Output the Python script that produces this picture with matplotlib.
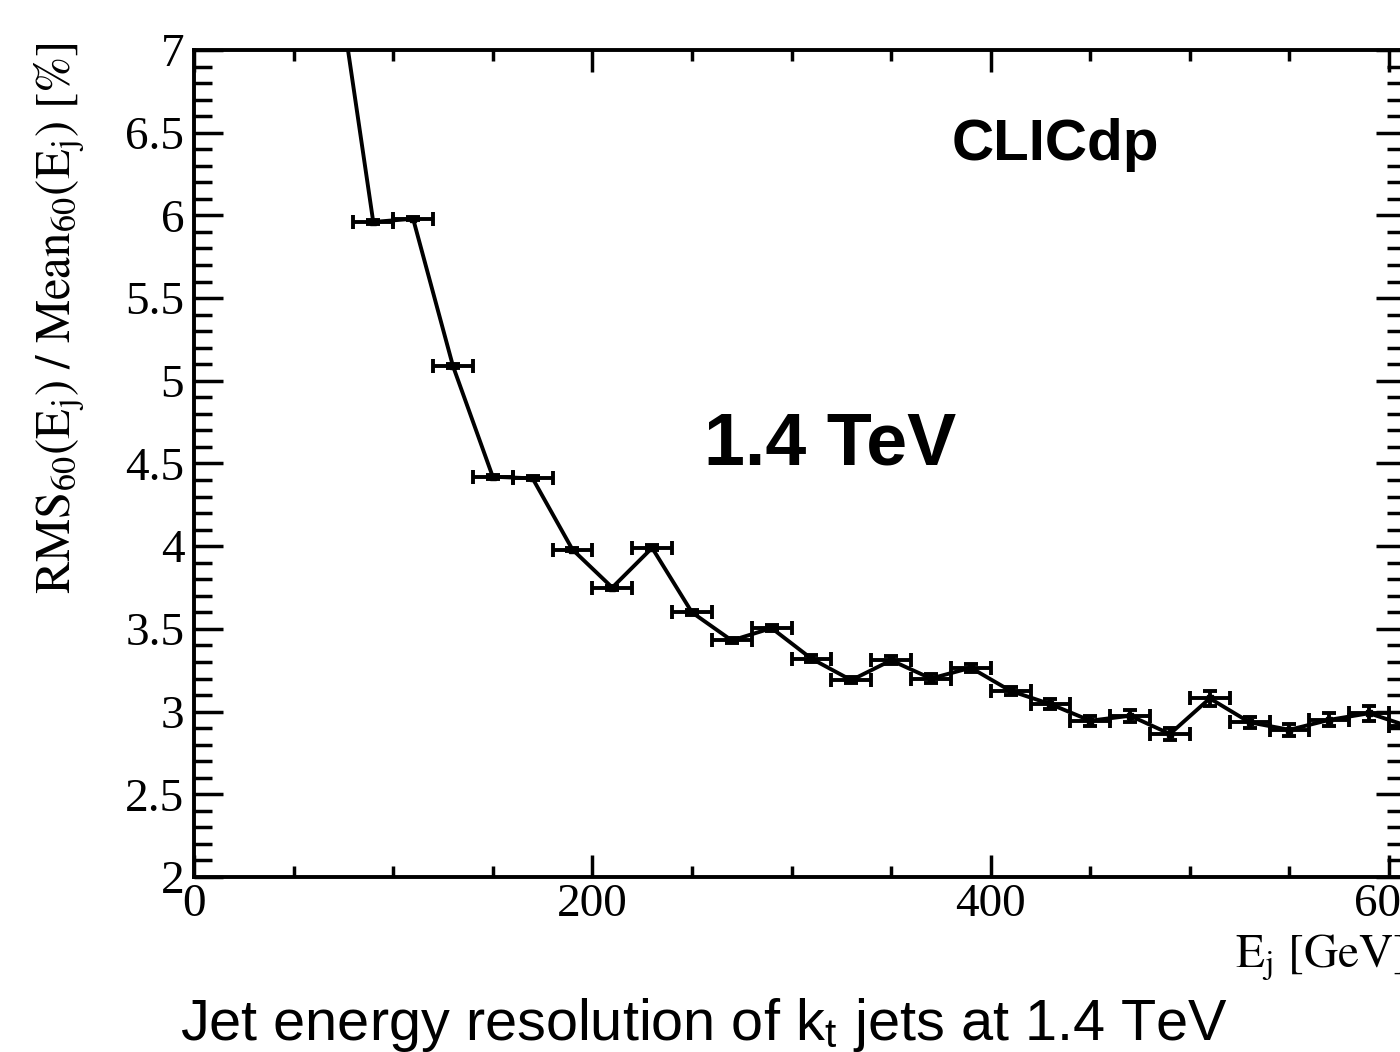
import matplotlib.pyplot as plt
from matplotlib.ticker import MultipleLocator

plt.rcParams["mathtext.fontset"] = "stix"

# jet energy bins (GeV) and resolution values (%)
energy = [70, 90, 110, 130, 150, 170, 190, 210, 230, 250, 270, 290, 310, 330,
          350, 370, 390, 410, 430, 450, 470, 490, 510, 530, 550, 570, 590, 610]
resolution = [7.60, 5.96, 5.98, 5.09, 4.42, 4.41, 3.98, 3.75, 3.99, 3.60, 3.43,
              3.505, 3.32, 3.19, 3.31, 3.20, 3.265, 3.125, 3.045, 2.945, 2.975,
              2.865, 3.08, 2.935, 2.89, 2.95, 2.99, 2.91]
res_err = [0.015, 0.010, 0.010, 0.012, 0.012, 0.012, 0.012, 0.012, 0.015, 0.015,
           0.018, 0.020, 0.020, 0.020, 0.025, 0.025, 0.025, 0.025, 0.030, 0.030,
           0.035, 0.035, 0.045, 0.035, 0.035, 0.040, 0.045, 0.045]
bin_half_width = 10

fig = plt.figure(figsize=(14, 10.52), dpi=100)
ax = fig.add_axes([194 / 1400, 175 / 1052, 1211 / 1400, 827 / 1052])

ax.plot(energy, resolution, color="black", lw=2.8)
ax.errorbar(energy, resolution, xerr=bin_half_width, yerr=res_err, fmt="s",
            ms=5, color="black", elinewidth=2.8, capsize=5, capthick=2.8)

ax.set_xlim(0, 608)
ax.set_ylim(2, 7)
ax.xaxis.set_major_locator(MultipleLocator(200))
ax.xaxis.set_minor_locator(MultipleLocator(50))
ax.yaxis.set_major_locator(MultipleLocator(0.5))
ax.yaxis.set_minor_locator(MultipleLocator(0.1))
ax.set_yticks([2, 2.5, 3, 3.5, 4, 4.5, 5, 5.5, 6, 6.5, 7])
ax.set_yticklabels(["2", "2.5", "3", "3.5", "4", "4.5", "5", "5.5", "6", "6.5", "7"])

ax.tick_params(axis="both", which="both", direction="in", top=True, right=True,
               width=2.5, labelsize=34, labelfontfamily="Liberation Serif")
ax.tick_params(axis="x", which="major", length=16, pad=5)
ax.tick_params(axis="x", which="minor", length=8)
ax.tick_params(axis="y", which="major", length=21, pad=7)
ax.tick_params(axis="y", which="minor", length=13)
for s in ax.spines.values():
    s.set_linewidth(2.8)

ax.text(0.711, 0.885, "CLICdp", transform=ax.transAxes, ha="center",
        va="center", fontsize=42, fontweight="bold", family="Liberation Sans")
ax.text(0.525, 0.522, "1.4 TeV", transform=ax.transAxes, ha="center",
        va="center", fontsize=53, fontweight="bold", family="Liberation Sans")

fig.text(60 / 1400, 1 - 42 / 1052,
         r"$\mathrm{RMS}_{60}(\mathrm{E}_{\mathrm{j}})\ /\ \mathrm{Mean}_{60}(\mathrm{E}_{\mathrm{j}})\ [\%]$",
         rotation=90, ha="center", va="top", fontsize=35)
fig.text(1235 / 1400, 1 - 968 / 1052, r"$\mathrm{E}_{\mathrm{j}}\ [\mathrm{GeV}]$",
         ha="left", va="baseline", fontsize=34)

fig.text(180 / 1400, 1 - 1040 / 1052,
         r"Jet energy resolution of k$_\mathregular{t}$ jets at 1.4 TeV",
         ha="left", va="baseline", fontsize=41.5, family="Liberation Sans")

fig.savefig("out.png", dpi=100)
